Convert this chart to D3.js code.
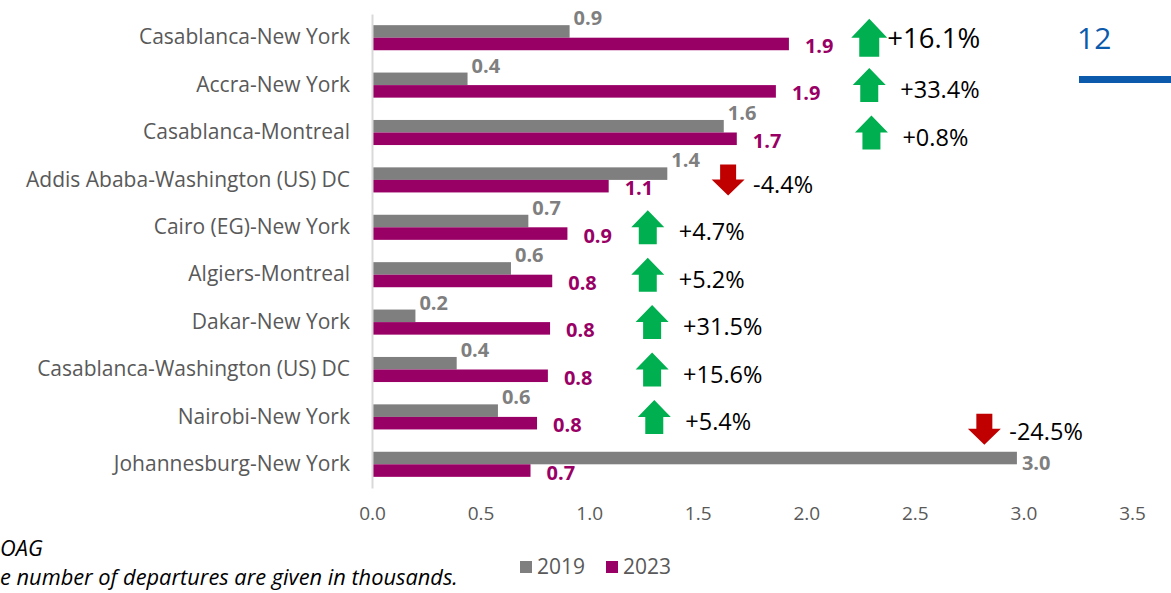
<!DOCTYPE html>
<html>
<head>
<meta charset="utf-8">
<script src="https://cdn.jsdelivr.net/npm/d3@7"></script>
<style>
  body { margin: 0; background: #fff; }
  svg { display: block; font-family: "Open Sans", sans-serif; }
</style>
</head>
<body>
<div id="chart"></div>
<script>
// routes, top to bottom
const routes = [
  "Casablanca-New York", "Accra-New York", "Casablanca-Montreal",
  "Addis Ababa-Washington (US) DC", "Cairo (EG)-New York", "Algiers-Montreal",
  "Dakar-New York", "Casablanca-Washington (US) DC", "Nairobi-New York",
  "Johannesburg-New York"
];
// departures, thousands
const dep2019 = [0.91, 0.44, 1.62, 1.36, 0.72, 0.64, 0.20, 0.39, 0.58, 2.97];
const dep2023 = [1.92, 1.86, 1.68, 1.09, 0.90, 0.83, 0.82, 0.81, 0.76, 0.73];
const lbl2019 = ["0.9", "0.4", "1.6", "1.4", "0.7", "0.6", "0.2", "0.4", "0.6", "3.0"];
const lbl2023 = ["1.9", "1.9", "1.7", "1.1", "0.9", "0.8", "0.8", "0.8", "0.8", "0.7"];
// change shown next to the arrows
const change = ["+16.1%", "+33.4%", "+0.8%", "-4.4%", "+4.7%", "+5.2%", "+31.5%", "+15.6%", "+5.4%", "-24.5%"];
// where the arrow annotations sit, in axis units
const arrowAt = [2.29, 2.29, 2.30, 1.64, 1.27, 1.27, 1.29, 1.29, 1.30, 2.82];
const xTicks = [0, 0.5, 1, 1.5, 2, 2.5, 3, 3.5];
const years = ["2019", "2023"];

const width = 1171, height = 593;
const margin = {top: 14, right: 39, bottom: 105, left: 372};
const colors = {"2019": "#7F7F7F", "2023": "#990066"};

const svg = d3.select("#chart").append("svg")
  .attr("width", width)
  .attr("height", height);

const x = d3.scaleLinear()
  .domain([0, 3.5])
  .range([margin.left, width - margin.right]);

const y = d3.scaleBand()
  .domain(routes)
  .range([margin.top, height - margin.bottom])
  .padding(0);

const yInner = d3.scaleBand()
  .domain(years)
  .range([0, y.bandwidth()])
  .paddingInner(0)
  .paddingOuter(0.89);

const rows = routes.map((r, i) => ({
  route: r, v19: dep2019[i], v23: dep2023[i],
  l19: lbl2019[i], l23: lbl2023[i], pct: change[i], at: arrowAt[i]
}));

// x axis tick labels (no line)
const xAxis = svg.append("g")
  .attr("transform", `translate(0,${height - margin.bottom + 18})`)
  .call(d3.axisBottom(x).tickValues(xTicks).tickFormat(d3.format(".1f")).tickSize(0).tickPadding(0));
xAxis.select(".domain").remove();
xAxis.selectAll("text")
  .attr("font-size", "19px")
  .attr("font-family", "Open Sans")
  .attr("fill", "#595959");

// bars
const grp = svg.selectAll(".row")
  .data(rows)
  .enter()
  .append("g")
  .attr("class", "row")
  .attr("transform", d => `translate(0,${y(d.route)})`);

grp.append("rect")
  .attr("x", x(0))
  .attr("y", yInner("2019"))
  .attr("width", d => x(d.v19) - x(0))
  .attr("height", yInner.bandwidth())
  .attr("fill", colors["2019"]);

grp.append("rect")
  .attr("x", x(0))
  .attr("y", yInner("2023"))
  .attr("width", d => x(d.v23) - x(0))
  .attr("height", yInner.bandwidth())
  .attr("fill", colors["2023"]);

// category axis
const yAxis = svg.append("g")
  .attr("transform", `translate(${x(0)},0)`)
  .call(d3.axisLeft(y).tickSize(0).tickPadding(22));
yAxis.select(".domain").attr("stroke", "#D9D9D9").attr("stroke-width", 2);
yAxis.selectAll("text")
  .attr("font-size", "21px")
  .attr("font-family", "Open Sans")
  .attr("fill", "#595959");

// data labels
grp.append("text")
  .attr("x", d => d.v19 > 2.5 ? x(d.v19) + 5 : x(d.v19) + 4)
  .attr("y", d => d.v19 > 2.5 ? yInner("2023") + 6 : yInner("2019") + 0)
  .attr("font-size", "20px")
  .attr("font-weight", "bold")
  .attr("fill", colors["2019"])
  .text(d => d.l19);

grp.append("text")
  .attr("x", d => x(d.v23) + 16)
  .attr("y", d => yInner("2023") + yInner.bandwidth() / 2 + 9)
  .attr("font-size", "20px")
  .attr("font-weight", "bold")
  .attr("fill", colors["2023"])
  .text(d => d.l23);

// arrows
function arrowPath(up, w, h, shaft, head) {
  const hw = w / 2, sw = shaft / 2, hh = h / 2;
  if (up) {
    return `M0,${-hh} L${hw},${-hh + head} L${sw},${-hh + head} L${sw},${hh} L${-sw},${hh} L${-sw},${-hh + head} L${-hw},${-hh + head} Z`;
  }
  return `M0,${hh} L${hw},${hh - head} L${sw},${hh - head} L${sw},${-hh} L${-sw},${-hh} L${-sw},${hh - head} L${-hw},${hh - head} Z`;
}

const ann = grp.append("g")
  .attr("transform", d => {
    const lift = d.at < Math.max(d.v19, d.v23) ? -35 : 0;
    return `translate(${x(d.at)},${y.bandwidth() / 2 + lift})`;
  });

ann.append("path")
  .attr("d", (d, i) => {
    const up = d.pct[0] === "+";
    if (i === 0) return arrowPath(true, 36, 38, 20, 19);
    return up ? arrowPath(true, 33, 34, 18, 17) : arrowPath(false, 33, 31, 16, 16);
  })
  .attr("fill", d => d.pct[0] === "+" ? "#00B050" : "#C00000");

ann.append("text")
  .attr("x", (d, i) => i === 0 ? 18 : (d.pct[0] === "+" ? 31 : 25))
  .attr("y", (d, i) => i === 0 ? 10 : (d.at < Math.max(d.v19, d.v23) ? 11 : 13))
  .attr("font-size", (d, i) => i === 0 ? "27.5px" : "23.5px")
  .attr("fill", "#000")
  .text(d => d.pct);

// legend
const legend = svg.append("g")
  .attr("transform", `translate(520,${height - 26})`);
years.forEach((yr, i) => {
  const g = legend.append("g").attr("transform", `translate(${i * 86},0)`);
  g.append("rect").attr("x", 0).attr("y", -6).attr("width", 12).attr("height", 12).attr("fill", colors[yr]);
  g.append("text").attr("x", 17).attr("y", 7).attr("font-size", "21px").attr("fill", "#595959").text(yr);
});

// notes (cut at the left edge in the original slide)
svg.append("text")
  .attr("x", 0).attr("y", 556)
  .attr("font-size", "21.8px").attr("font-style", "italic").attr("fill", "#000")
  .text("OAG");
svg.append("text")
  .attr("x", 0).attr("y", 585)
  .attr("font-size", "21.8px").attr("font-style", "italic").attr("fill", "#000")
  .text("e number of departures are given in thousands.");

// page number and rule
svg.append("text")
  .attr("x", 1077).attr("y", 49)
  .attr("font-size", "30px").attr("fill", "#0B5AAB")
  .text("12");
svg.append("rect")
  .attr("x", 1079).attr("y", 76).attr("width", 92).attr("height", 7)
  .attr("fill", "#0B5AAB");
</script>
</body>
</html>
